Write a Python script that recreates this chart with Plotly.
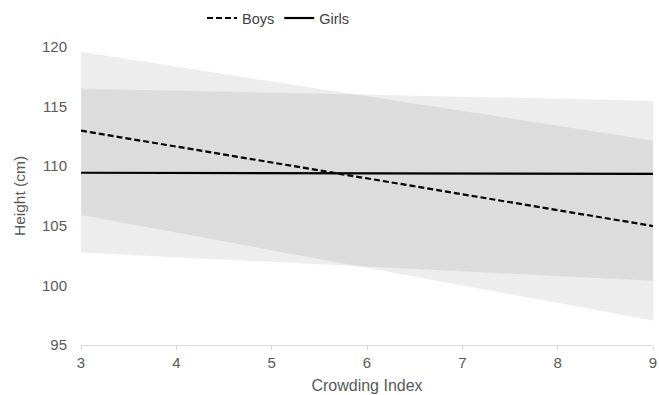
import plotly.graph_objects as go

# Data
crowding_index = [3, 9]
boys_height = [112.98, 104.98]
girls_height = [109.45, 109.35]
boys_upper = [119.6, 112.15]
boys_lower = [105.9, 97.05]
girls_upper = [116.5, 115.5]
girls_lower = [102.75, 100.4]

x_ticks = [3, 4, 5, 6, 7, 8, 9]
y_ticks = [95, 100, 105, 110, 115, 120]

band_fill = "rgba(0,0,0,0.072)"

fig = go.Figure()

# Confidence bands
fig.add_trace(go.Scatter(
    x=crowding_index + crowding_index[::-1],
    y=boys_upper + boys_lower[::-1],
    fill="toself", fillcolor=band_fill, mode="lines",
    line=dict(width=0), showlegend=False, hoverinfo="skip"))
fig.add_trace(go.Scatter(
    x=crowding_index + crowding_index[::-1],
    y=girls_upper + girls_lower[::-1],
    fill="toself", fillcolor=band_fill, mode="lines",
    line=dict(width=0), showlegend=False, hoverinfo="skip"))

# Lines
fig.add_trace(go.Scatter(
    x=crowding_index, y=boys_height, mode="lines", name="Boys",
    line=dict(color="black", width=2.2, dash="6px,3px")))
fig.add_trace(go.Scatter(
    x=crowding_index, y=girls_height, mode="lines", name="Girls",
    line=dict(color="black", width=2.2)))

font_family = "Liberation Sans, Arial, sans-serif"

fig.update_layout(
    width=659, height=395,
    margin=dict(l=81, r=6, t=47, b=50, autoexpand=False),
    paper_bgcolor="white", plot_bgcolor="white",
    font=dict(family=font_family, size=15, color="#595959"),
    legend=dict(orientation="h", x=0.2115, xanchor="left", y=1.097, yanchor="middle",
                font=dict(size=14.5, color="#404040"), bgcolor="rgba(0,0,0,0)",
                itemwidth=30, tracegroupgap=0),
    showlegend=True,
)

fig.update_xaxes(
    range=[3, 9], tickvals=x_ticks, ticktext=[str(v) for v in x_ticks],
    showgrid=False, zeroline=False, automargin=False,
    showline=True, linecolor="#d9d9d9", linewidth=1,
    ticks="outside", ticklen=4, tickcolor="#d9d9d9",
    ticklabelstandoff=0,
    tickfont=dict(size=15, color="#595959"),
    title=dict(text="Crowding Index", font=dict(size=16, color="#595959"), standoff=9),
)
fig.update_yaxes(
    range=[95, 120], tickvals=y_ticks, ticktext=[str(v) for v in y_ticks],
    showgrid=False, zeroline=False, showline=False, automargin=False,
    ticks="", ticklabelstandoff=13,
    tickfont=dict(size=15, color="#595959"),
    title=dict(text="Height (cm)", font=dict(size=15.5, color="#595959"), standoff=12),
)

fig.write_html(
    "out.html",
    config={"displayModeBar": False},
    post_script="document.body.style.margin='0';document.body.style.overflow='hidden';",
)
